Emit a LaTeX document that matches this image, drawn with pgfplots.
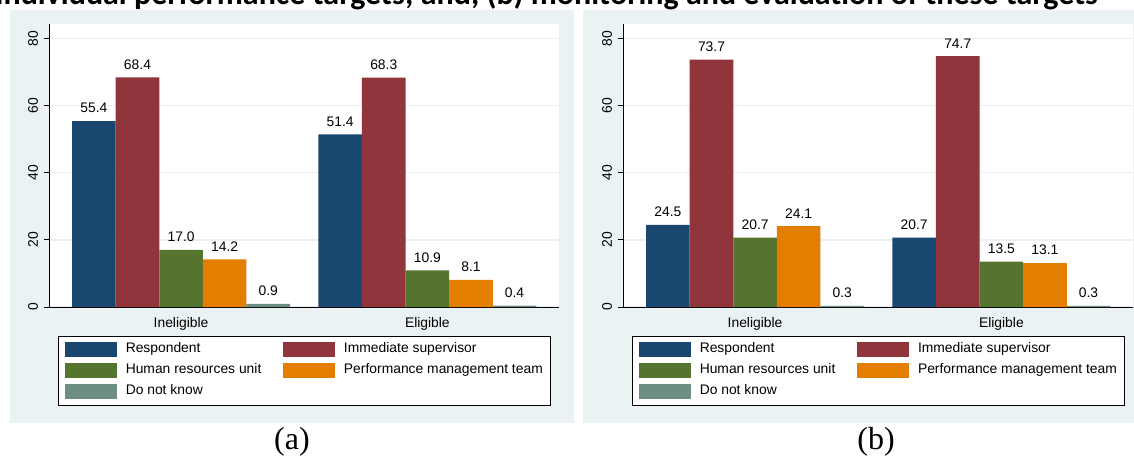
\documentclass[border=0pt]{standalone}
\usepackage{fontspec}
\setmainfont{Liberation Sans}
\newfontfamily\seriffont{Liberation Serif}
\newfontfamily\titlefont{Carlito}
\usepackage{pgfplots}
\pgfplotsset{compat=1.18}
\definecolor{sbg}{RGB}{234,242,243}
\definecolor{sgrid}{RGB}{232,240,242}
\definecolor{snavy}{RGB}{26,71,111}
\definecolor{smaroon}{RGB}{144,53,59}
\definecolor{sgreen}{RGB}{85,117,47}
\definecolor{sorange}{RGB}{227,126,0}
\definecolor{steal}{RGB}{110,142,132}
\newcommand\fs{\fontsize{10.4pt}{12pt}\selectfont}
\pgfplotsset{
  statabar/.style={
    scale only axis, width=382.5pt, height=212.25pt,
    anchor=south west,
    xmin=-0.03, xmax=11.67, ymin=0, ymax=84.3,
    axis x line=bottom, axis y line=left,
    axis line style={-, black, line width=0.6pt},
    axis background/.style={fill=white},
    ytick={0,20,40,60,80},
    ymajorgrids, grid style={sgrid, line width=1pt},
    tick style={black, line width=0.6pt},
    major tick length=3.5pt, tick align=outside,
    xtick={3,8.65}, xticklabels={Ineligible,Eligible},
    xtick style={draw=none},
    yticklabel style={xshift=-4.5pt, rotate=90, anchor=south, inner sep=0pt, font=\fs},
    xticklabel style={anchor=north, inner sep=0pt, font=\fs, yshift=-4.5pt},
    /pgf/number format/assume math mode=true,
    nodes near coords={\pgfmathprintnumber[fixed,fixed zerofill,precision=1]{\pgfplotspointmeta}},
    every node near coord/.append style={anchor=south, inner sep=0pt, yshift=5.8pt, font=\fs, text=black},
    legend columns=2,
    legend cell align=left,
    legend style={at={(0.5,-0.1007)}, anchor=north, draw=black, fill=white,
      inner xsep=5.5pt, inner ysep=4.5pt, row sep=4.5pt, font=\fs,
      nodes={inner sep=0pt, text height=0.72em, text depth=0.2em},
      /tikz/every odd column/.append style={column sep=6.45pt},
      /tikz/every even column/.append style={column sep=16.5pt}},
  },
  sbar/.style={ybar, bar shift=0pt, bar width=1, fill=#1, draw=none,
    legend image code/.code={\fill[#1] (0pt,-5.625pt) rectangle (39pt,5.625pt);}},
}
\begin{document}
\begin{tikzpicture}
\fill[sbg] (7.5pt,24pt) rectangle (430.5pt,333.75pt);
\fill[sbg] (437.25pt,24pt) rectangle (852pt,333.75pt);
\begin{axis}[statabar, at={(36.75pt,111pt)}]
\addplot[sbar=snavy] coordinates {(1,55.4) (6.65,51.4)};
\addplot[sbar=smaroon] coordinates {(2,68.4) (7.65,68.3)};
\addplot[sbar=sgreen] coordinates {(3,17.0) (8.65,10.9)};
\addplot[sbar=sorange] coordinates {(4,14.2) (9.65,8.1)};
\addplot[sbar=steal] coordinates {(5,0.9) (10.65,0.4)};
\legend{Respondent, Immediate supervisor, Human resources unit, Performance management team, Do not know}
\end{axis}
\begin{axis}[statabar, at={(467.25pt,111pt)}]
\addplot[sbar=snavy] coordinates {(1,24.5) (6.65,20.7)};
\addplot[sbar=smaroon] coordinates {(2,73.7) (7.65,74.7)};
\addplot[sbar=sgreen] coordinates {(3,20.7) (8.65,13.5)};
\addplot[sbar=sorange] coordinates {(4,24.1) (9.65,13.1)};
\addplot[sbar=steal] coordinates {(5,0.3) (10.65,0.3)};
\legend{Respondent, Immediate supervisor, Human resources unit, Performance management team, Do not know}
\end{axis}
\node[anchor=base east, inner sep=0pt] at (823.5pt,338.25pt) {\titlefont\bfseries\fontsize{24pt}{28pt}\selectfont individual performance targets; and, (b) monitoring and evaluation of these targets};
\node[anchor=base, inner sep=0pt] at (219pt,4.5pt) {\seriffont\fontsize{24pt}{28pt}\selectfont (a)};
\node[anchor=base, inner sep=0pt] at (657pt,4.5pt) {\seriffont\fontsize{24pt}{28pt}\selectfont (b)};
\pgfresetboundingbox
\useasboundingbox (0pt,0pt) rectangle (850.5pt,341.25pt);
\end{tikzpicture}
\end{document}
